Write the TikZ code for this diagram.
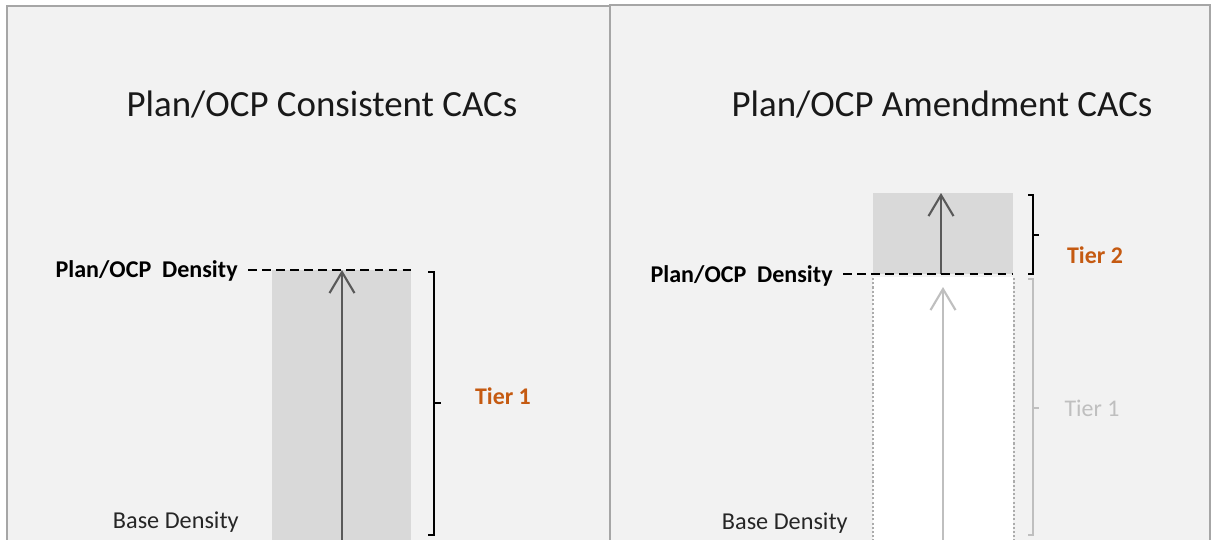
\documentclass[tikz,border=0pt]{standalone}
\usepackage{fontspec}
\setmainfont{Carlito}
\usepackage{tikz}
\usetikzlibrary{positioning, arrows.meta}

\definecolor{panelgray}{HTML}{F2F2F2}
\definecolor{framegray}{HTML}{A6A6A6}
\definecolor{bargray}{HTML}{D9D9D9}
\definecolor{arrowgray}{HTML}{595959}
\definecolor{fadedgray}{HTML}{BFBFBF}
\definecolor{textgray}{HTML}{262626}
\definecolor{tierorange}{HTML}{C55A11}

\begin{document}
\begin{tikzpicture}[x=0.02cm, y=-0.02cm]
	% Define styles
	\tikzset{
		panel/.style={draw=framegray, line width=1.2pt, fill=panelgray},
		bar/.style={fill=bargray},
		heading/.style={font=\fontsize{21}{25}\selectfont, anchor=base, inner sep=0pt, text=black!90},
		densitylabel/.style={font=\fontsize{13.7}{16}\selectfont\bfseries, anchor=base east, inner sep=0pt},
		basetext/.style={font=\fontsize{13.8}{16}\selectfont, anchor=base east, inner sep=0pt, text=textgray},
		tier/.style={font=\fontsize{13.6}{16}\selectfont\bfseries, text=tierorange, inner sep=0pt},
		oldtier/.style={font=\fontsize{13.6}{16}\selectfont, text=fadedgray, inner sep=0pt},
		line/.style={draw=arrowgray, line width=1.2pt, -{Straight Barb[length=0.42cm, width=0.5cm]}},
		oldline/.style={line, draw=fadedgray},
		limit/.style={draw, line width=1.2pt, dash pattern=on 5pt off 3pt},
		brace/.style={draw, line width=1.3pt},
		oldbrace/.style={brace, draw=fadedgray},
		outline/.style={draw=fadedgray!90!black, line width=1.5pt, dash pattern=on 1.2pt off 1.2pt}
	}

	\useasboundingbox[fill=white] (0,0) rectangle (1213,539);
	\clip (0,0) rectangle (1213,539);

	% Panels
	\draw[panel] (7,6) rectangle (610,560);
	\draw[panel] (610,5) rectangle (1210,560);

	% Left panel: consistent
	\fill[bar] (272,270) rectangle (411,560);
	\coordinate (top1) at (342,270);
	\coordinate (foot1) at (342,545);
	\coordinate (dash1l) at (248,270);
	\coordinate (dash1r) at (411,270);

	\node[heading] (title1) at (322,116) {Plan/OCP Consistent CACs};
	\node[densitylabel] (plan1) at (238,277) {Plan/OCP\ \ Density};
	\node[basetext] (base1) at (239,528) {Base Density};
	\node[tier] (tier1) at (503,396) {Tier 1};

	\draw[limit] (dash1l) -- (dash1r);
	\draw[line] (foot1) -- (top1);
	\draw[brace] (428,272) -- (434,272) -- (434,535) -- (428,535);
	\draw[brace] (434,403) -- (441,403);

	% Right panel: amendment
	\fill[bar] (873,193) rectangle (1013,274);
	\fill[white] (873,277) rectangle (1013,560);
	\draw[outline] (873,278) -- (873,560);
	\draw[outline] (1014,278) -- (1014,560);
	\coordinate (top2) at (941,193);
	\coordinate (foot2) at (941,274);
	\coordinate (oldtop) at (943,287);
	\coordinate (oldfoot) at (943,545);
	\coordinate (dash2l) at (843,274);
	\coordinate (dash2r) at (1013,274);

	\node[heading] (title2) at (942,116) {Plan/OCP Amendment CACs};
	\node[densitylabel] (plan2) at (833,282) {Plan/OCP\ \ Density};
	\node[basetext] (base2) at (848,529) {Base Density};
	\node[tier] (tier2) at (1095,255) {Tier 2};
	\node[oldtier] (tier1old) at (1092,408) {Tier 1};

	\draw[oldline] (oldfoot) -- (oldtop);
	\draw[line] (foot2) -- (top2);
	\draw[limit] (dash2l) -- (dash2r);
	\draw[brace] (1028,195) -- (1033,195) -- (1033,274) -- (1028,274);
	\draw[brace] (1033,235) -- (1039,235);
	\draw[oldbrace] (1028,279) -- (1033,279) -- (1033,535) -- (1028,535);
	\draw[oldbrace] (1033,408) -- (1039,408);
\end{tikzpicture}
\end{document}
